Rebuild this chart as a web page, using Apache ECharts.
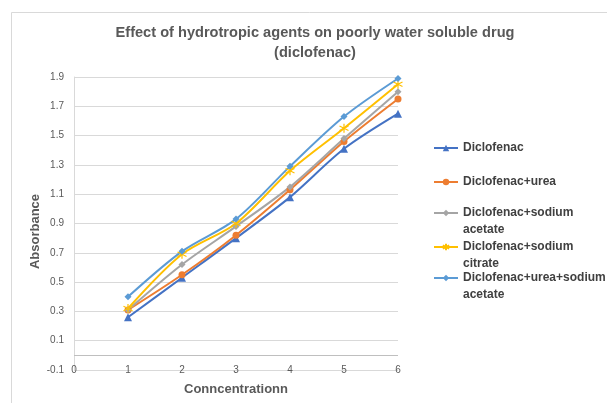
<!DOCTYPE html>
<html>
<head>
<meta charset="utf-8">
<script src="https://cdn.jsdelivr.net/npm/echarts@6/dist/echarts.min.js"></script>
<style>
  html, body { margin: 0; padding: 0; background: #fff; }
  #chart { width: 607px; height: 403px; }
</style>
</head>
<body>
<div id="chart"></div>
<script>
// concentration levels (x)
const concentration = [1, 2, 3, 4, 5, 6];
// absorbance readings per formulation
const diclofenac = [0.26, 0.53, 0.80, 1.08, 1.41, 1.65];
const diclofenacUrea = [0.31, 0.55, 0.82, 1.13, 1.46, 1.75];
const diclofenacSodiumAcetate = [0.31, 0.62, 0.88, 1.15, 1.48, 1.80];
const diclofenacSodiumCitrate = [0.32, 0.69, 0.90, 1.26, 1.55, 1.85];
const diclofenacUreaSodiumAcetate = [0.40, 0.71, 0.93, 1.29, 1.63, 1.89];

const seriesNames = [
  'Diclofenac',
  'Diclofenac+urea',
  'Diclofenac+sodium acetate',
  'Diclofenac+sodium citrate',
  'Diclofenac+urea+sodium acetate'
];
// how the legend wraps each name
const legendLabels = [
  'Diclofenac',
  'Diclofenac+urea',
  'Diclofenac+sodium\nacetate',
  'Diclofenac+sodium\ncitrate',
  'Diclofenac+urea+sodium\nacetate'
];
const yTicks = [-0.1, 1.9, 0.2]; // min, max, step

const chart = echarts.init(document.getElementById('chart'));
const textColor = '#595959';
const font = "'Liberation Sans', Arial, sans-serif";
const starIcon = 'path://M0,-5L0,5M-4.3,-2.5L4.3,2.5M-4.3,2.5L4.3,-2.5';

function pairs(values) {
  return values.map((v, i) => [concentration[i], v]);
}

function makeSeries(name, values, color, symbol, size, extra) {
  const s = {
    name: name,
    type: 'line',
    data: pairs(values),
    smooth: 0.3,
    symbol: symbol,
    symbolSize: size,
    showSymbol: true,
    lineStyle: { color: color, width: 2 },
    itemStyle: { color: color },
    emphasis: { disabled: true },
    z: 3
  };
  return Object.assign(s, extra || {});
}

const series = [
  makeSeries(seriesNames[0], diclofenac, '#4472C4', 'triangle', 8, {
    // x axis crosses at zero
    markLine: {
      silent: true,
      symbol: 'none',
      label: { show: false },
      lineStyle: { color: '#bfbfbf', type: 'solid', width: 1 },
      data: [{ yAxis: 0 }],
      z: 1
    }
  }),
  makeSeries(seriesNames[1], diclofenacUrea, '#ED7D31', 'circle', 7),
  makeSeries(seriesNames[2], diclofenacSodiumAcetate, '#A5A5A5', 'diamond', 7),
  makeSeries(seriesNames[3], diclofenacSodiumCitrate, '#FFC000', starIcon, 9, {
    itemStyle: { color: '#FFC000', borderColor: '#FFC000', borderWidth: 1.2 }
  }),
  makeSeries(seriesNames[4], diclofenacUreaSodiumAcetate, '#5B9BD5', 'diamond', 7)
];

// first-line centres of each legend entry
const legendTops = [148, 182, 213, 247, 278];
const legends = seriesNames.map((name, i) => {
  const twoLine = legendLabels[i].indexOf('\n') >= 0;
  return {
    data: [name],
    orient: 'vertical',
    left: 433,
    top: twoLine ? legendTops[i] - 25.5 : legendTops[i] - 8.5,
    padding: 0,
    itemWidth: 24,
    itemHeight: 8,
    selectedMode: false,
    formatter: function () {
      return twoLine ? '\n' + legendLabels[i] : legendLabels[i];
    },
    textStyle: {
      color: '#404040',
      fontSize: 12,
      fontWeight: 'bold',
      fontFamily: font,
      lineHeight: 17
    }
  };
});

const option = {
  backgroundColor: '#fff',
  animation: false,
  title: {
    text: 'Effect of hydrotropic agents on poorly water soluble drug\n(diclofenac)',
    left: 310,
    top: 18,
    textAlign: 'center',
    textStyle: {
      color: textColor,
      fontSize: 14.6,
      fontWeight: 'bold',
      fontFamily: font,
      lineHeight: 20
    }
  },
  graphic: [{
    type: 'rect',
    shape: { x: 11.5, y: 12.5, width: 700, height: 500 },
    style: { fill: 'none', stroke: '#d9d9d9', lineWidth: 1 },
    silent: true,
    z: -1
  }],
  legend: legends,
  grid: {
    left: 74,
    right: 607 - 398,
    top: 77,
    bottom: 403 - 370
  },
  xAxis: {
    type: 'value',
    min: 0,
    max: 6,
    interval: 1,
    name: 'Conncentrationn',
    nameLocation: 'middle',
    nameGap: 13,
    nameTextStyle: { color: textColor, fontSize: 13, fontWeight: 'bold', fontFamily: font },
    axisLine: { show: false },
    axisTick: { show: false },
    splitLine: { show: false },
    axisLabel: {
      color: textColor,
      fontSize: 10,
      fontFamily: font,
      margin: 0,
      verticalAlign: 'middle'
    }
  },
  yAxis: {
    type: 'value',
    min: yTicks[0],
    max: yTicks[1],
    interval: yTicks[2],
    name: 'Absorbance',
    nameLocation: 'middle',
    nameGap: 32,
    nameMoveOverlap: false,
    nameTextStyle: {
      color: textColor, fontSize: 13, fontWeight: 'bold', fontFamily: font,
      padding: [0, 16, 0, 0]
    },
    axisLine: { show: true, lineStyle: { color: '#d9d9d9' } },
    axisTick: { show: false },
    splitLine: { show: true, lineStyle: { color: '#d9d9d9', width: 1 } },
    axisLabel: {
      color: textColor,
      fontSize: 10,
      fontFamily: font,
      margin: 10,
      formatter: function (v) { return (Math.round(v * 10) / 10).toFixed(1); }
    }
  },
  series: series
};

chart.setOption(option);
</script>
</body>
</html>
